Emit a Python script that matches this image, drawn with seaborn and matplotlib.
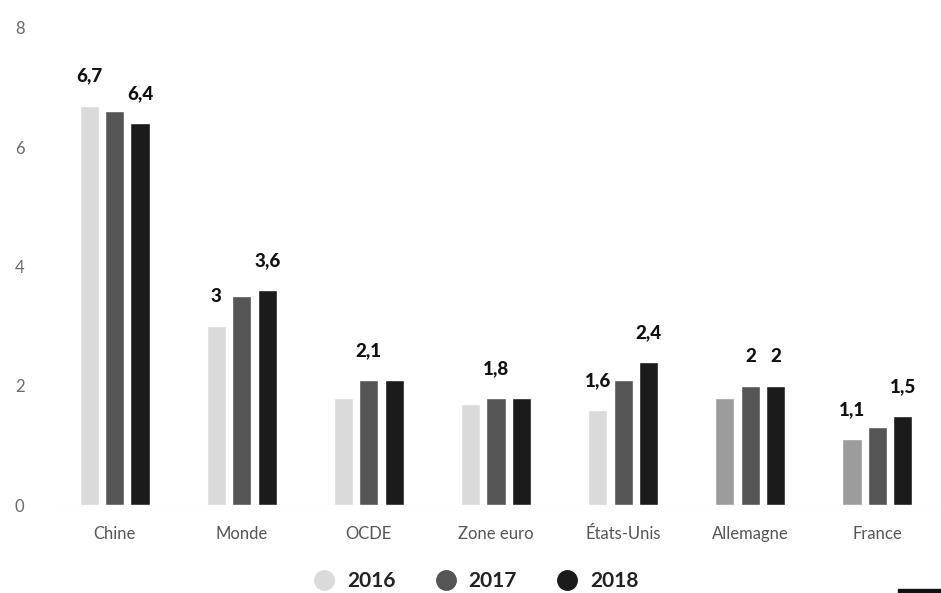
import matplotlib
matplotlib.use("Agg")
import matplotlib.pyplot as plt
from matplotlib.lines import Line2D
from matplotlib.patches import Rectangle
import seaborn as sns
import pandas as pd

# Croissance du PIB (%) par zone
categories = ["Chine", "Monde", "OCDE", "Zone euro", "États-Unis", "Allemagne", "France"]
years = ["2016", "2017", "2018"]
values_2016 = [6.7, 3.0, 1.8, 1.7, 1.6, 1.8, 1.1]
values_2017 = [6.6, 3.5, 2.1, 1.8, 2.1, 2.0, 1.3]
values_2018 = [6.4, 3.6, 2.1, 1.8, 2.4, 2.0, 1.5]
# which bars carry a value label, per year
labelled_2016 = [True, True, False, False, True, False, True]
labelled_2017 = [False, False, True, True, False, True, False]
labelled_2018 = [True, True, False, False, True, True, True]
y_ticks = [0, 2, 4, 6, 8]

series = {"2016": values_2016, "2017": values_2017, "2018": values_2018}
shown = {"2016": labelled_2016, "2017": labelled_2017, "2018": labelled_2018}

df = pd.DataFrame(
    [(c, y, v) for y in years for c, v in zip(categories, series[y])],
    columns=["zone", "annee", "croissance"],
)

palette = {"2016": "#dadada", "2017": "#555555", "2018": "#1b1b1b"}

sns.set_theme(style="white")
plt.rcParams["font.family"] = ["Lato", "DejaVu Sans"]

fig = plt.figure(figsize=(9.41, 5.93), dpi=100)
ax = fig.add_axes([51 / 941, 88 / 593, 1 - 51 / 941, (505 - 28) / 593])

sns.barplot(
    data=df, x="zone", y="croissance", hue="annee", order=categories,
    hue_order=years, palette=palette, width=0.6, gap=0.25,
    saturation=1, legend=False, ax=ax,
)

# 2016 bars for Allemagne and France are printed in a mid grey
for container, year in zip(ax.containers, years):
    if year == "2016":
        for i, patch in enumerate(container):
            if categories[i] in ("Allemagne", "France"):
                patch.set_facecolor("#9c9c9c")

def fmt(v):
    return f"{v:g}".replace(".", ",")

for container, year in zip(ax.containers, years):
    labels = [fmt(v) if s else "" for v, s in zip(series[year], shown[year])]
    ax.bar_label(container, labels=labels, padding=15, fontsize=13.5,
                 fontweight="black", color="#111111")

ax.set_ylim(0, 8)
ax.set_xlim(-0.5, 6.5)
ax.set_yticks(y_ticks)
ax.set_yticklabels([str(t) for t in y_ticks])
ax.set_xlabel("")
ax.set_ylabel("")
for s in ax.spines.values():
    s.set_visible(False)
ax.axhline(0, color="#f0f0f0", lw=1, zorder=0)
ax.tick_params(axis="y", length=0, pad=19, labelsize=12, labelcolor="#6a6a6a")
ax.tick_params(axis="x", length=0, pad=15, labelsize=12, labelcolor="#555555")
ax.grid(False)

handles = [
    Line2D([0], [0], marker="o", linestyle="", markersize=14,
           markerfacecolor=palette[y], markeredgecolor=palette[y])
    for y in years
]
fig.legend(
    handles, years, loc="center", bbox_to_anchor=(476 / 941, 1 - 581 / 593),
    ncol=3, frameon=False, handlelength=1.0, handletextpad=0.6,
    columnspacing=1.9, borderpad=0, prop={"weight": "bold", "size": 15},
    labelcolor="#222222",
)

fig.add_artist(Rectangle((898 / 941, 0), 43 / 941, 4 / 593,
                         transform=fig.transFigure, color="#111111"))

fig.savefig("out.png", dpi=100)
